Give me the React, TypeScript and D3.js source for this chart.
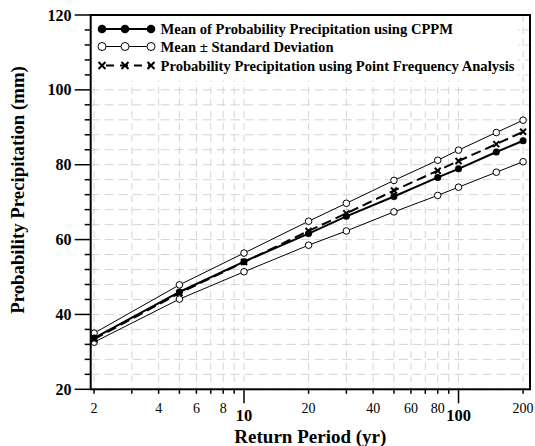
import React from "react";
import * as d3 from "d3";

// return periods (yr) and probability precipitation (mm)
const returnPeriods = [2, 5, 10, 20, 30, 50, 80, 100, 150, 200];
const meanCPPM = [33.7, 46.0, 54.1, 61.6, 66.2, 71.5, 76.6, 78.9, 83.4, 86.4];
const meanPlusSD = [35.0, 47.9, 56.4, 64.9, 69.7, 75.8, 81.2, 83.9, 88.6, 91.9];
const meanMinusSD = [32.6, 44.1, 51.4, 58.5, 62.3, 67.4, 71.8, 74.0, 78.0, 80.8];
const pointFreq = [33.4, 45.7, 54.0, 62.3, 67.0, 73.1, 78.4, 81.0, 85.5, 88.8];

const yMajorTicks = [20, 40, 60, 80, 100, 120];
const xMinorLabels = [2, 4, 6, 8, 20, 40, 60, 80, 200];
const xMajorLabels = [10, 100];
const legendLabels = [
  "Mean of Probability Precipitation using CPPM",
  "Mean \u00b1 Standard Deviation",
  "Probability Precipitation using Point Frequency Analysis",
];

const W = 535;
const H = 446;
const left = 90.7;
const right = 530;
const top = 15;
const bottom = 389.3;
const font = "'Liberation Serif', 'Times New Roman', serif";

export default function App() {
  const x = d3.scaleLog().domain([1.929, 215.4]).range([left, right]);
  const y = d3.scaleLinear().domain([20, 120]).range([bottom, top]);

  const xGrid = d3.range(2, 10).concat(d3.range(10, 100, 10), d3.range(100, 201, 100));
  const yMinor = d3.range(20, 121, 4);

  const line = d3
    .line<number>()
    .x((_, i) => x(returnPeriods[i]))
    .y((d) => y(d));

  const cross = (cx: number, cy: number, s: number, k: string) => (
    <path
      key={k}
      d={`M${cx - s},${cy - s}L${cx + s},${cy + s}M${cx - s},${cy + s}L${cx + s},${cy - s}`}
      stroke="#000"
      strokeWidth={2}
    />
  );

  const legX = [102, 125, 151];
  const legY = [29, 46.5, 65.5];

  return (
    <svg width={W} height={H} style={{ position: "absolute", left: 0, top: 0 }}>
      <rect width={W} height={H} fill="#fff" />

      {/* grid */}
      {xGrid.map((v) => (
        <line
          key={"gx" + v}
          x1={x(v)}
          x2={x(v)}
          y1={top}
          y2={bottom}
          stroke="#d4d4d4"
          strokeWidth={1}
          strokeDasharray="7,5"
        />
      ))}
      {yMinor.map((v) => (
        <line
          key={"gy" + v}
          x1={left}
          x2={right}
          y1={y(v)}
          y2={y(v)}
          stroke="#d4d4d4"
          strokeWidth={1}
          strokeDasharray="9,5"
        />
      ))}

      {/* legend background */}
      <rect x={left + 1.5} y={top + 1.5} width={518 - left - 1.5} height={79 - top} fill="#fff" />

      {/* series */}
      <path d={line(meanPlusSD) ?? ""} fill="none" stroke="#000" strokeWidth={1} />
      <path d={line(meanMinusSD) ?? ""} fill="none" stroke="#000" strokeWidth={1} />
      <path d={line(pointFreq) ?? ""} fill="none" stroke="#000" strokeWidth={2} strokeDasharray="10,5" />
      <path d={line(meanCPPM) ?? ""} fill="none" stroke="#000" strokeWidth={2} />

      {returnPeriods.map((rp, i) => (
        <g key={"m" + rp}>
          <circle cx={x(rp)} cy={y(meanPlusSD[i])} r={3.3} fill="#fff" stroke="#000" strokeWidth={1} />
          <circle cx={x(rp)} cy={y(meanMinusSD[i])} r={3.3} fill="#fff" stroke="#000" strokeWidth={1} />
          {cross(x(rp), y(pointFreq[i]), 3, "c" + rp)}
          <circle cx={x(rp)} cy={y(meanCPPM[i])} r={3.5} fill="#000" />
        </g>
      ))}

      {/* legend */}
      <line x1={legX[0]} x2={legX[2]} y1={legY[0]} y2={legY[0]} stroke="#000" strokeWidth={2} />
      {legX.map((lx) => (
        <circle key={"l0" + lx} cx={lx} cy={legY[0]} r={4.3} fill="#000" />
      ))}
      <line x1={legX[0]} x2={legX[2]} y1={legY[1]} y2={legY[1]} stroke="#000" strokeWidth={1} />
      {legX.map((lx) => (
        <circle key={"l1" + lx} cx={lx} cy={legY[1]} r={4} fill="#fff" stroke="#000" strokeWidth={1} />
      ))}
      <line
        x1={legX[0]}
        x2={legX[2]}
        y1={legY[2]}
        y2={legY[2]}
        stroke="#000"
        strokeWidth={2}
        strokeDasharray="8,6"
        strokeDashoffset={-4}
      />
      {legX.map((lx) => cross(lx, legY[2], 3.5, "l2" + lx))}
      {legendLabels.map((t, i) => (
        <text
          key={t}
          x={160.5}
          y={legY[i] + 5}
          fontFamily={font}
          fontWeight="bold"
          fontSize={14.6}
          fill="#000"
        >
          {t}
        </text>
      ))}

      {/* frame */}
      <rect x={left} y={top} width={right - left} height={bottom - top} fill="none" stroke="#000" strokeWidth={2} />

      {/* y ticks */}
      {yMinor.map((v) => (
        <line
          key={"yt" + v}
          x1={left - (v % 20 === 0 ? 16 : 6)}
          x2={left}
          y1={y(v)}
          y2={y(v)}
          stroke="#000"
          strokeWidth={1.5}
        />
      ))}
      {yMajorTicks.map((v) => (
        <text
          key={"yl" + v}
          x={71.5}
          y={y(v) + 5.5}
          textAnchor="end"
          fontFamily={font}
          fontWeight="bold"
          fontSize={16}
        >
          {v}
        </text>
      ))}

      {/* x ticks */}
      {xGrid.map((v) => (
        <line
          key={"xt" + v}
          x1={x(v)}
          x2={x(v)}
          y1={bottom}
          y2={bottom + (xMajorLabels.includes(v) ? 14 : 4.5)}
          stroke="#000"
          strokeWidth={1.5}
        />
      ))}
      {xMinorLabels.map((v) => (
        <text key={"xl" + v} x={x(v)} y={412.5} textAnchor="middle" fontFamily={font} fontSize={14}>
          {v}
        </text>
      ))}
      {xMajorLabels.map((v) => (
        <text
          key={"xL" + v}
          x={x(v)}
          y={421}
          textAnchor="middle"
          fontFamily={font}
          fontWeight="bold"
          fontSize={16.5}
        >
          {v}
        </text>
      ))}

      {/* axis titles */}
      <text
        x={(left + right) / 2}
        y={442.5}
        textAnchor="middle"
        fontFamily={font}
        fontWeight="bold"
        fontSize={19}
      >
        Return Period (yr)
      </text>
      <text
        transform={`translate(24,190) rotate(-90)`}
        textAnchor="middle"
        fontFamily={font}
        fontWeight="bold"
        fontSize={18.8}
      >
        Probability Precipitation (mm)
      </text>
    </svg>
  );
}
